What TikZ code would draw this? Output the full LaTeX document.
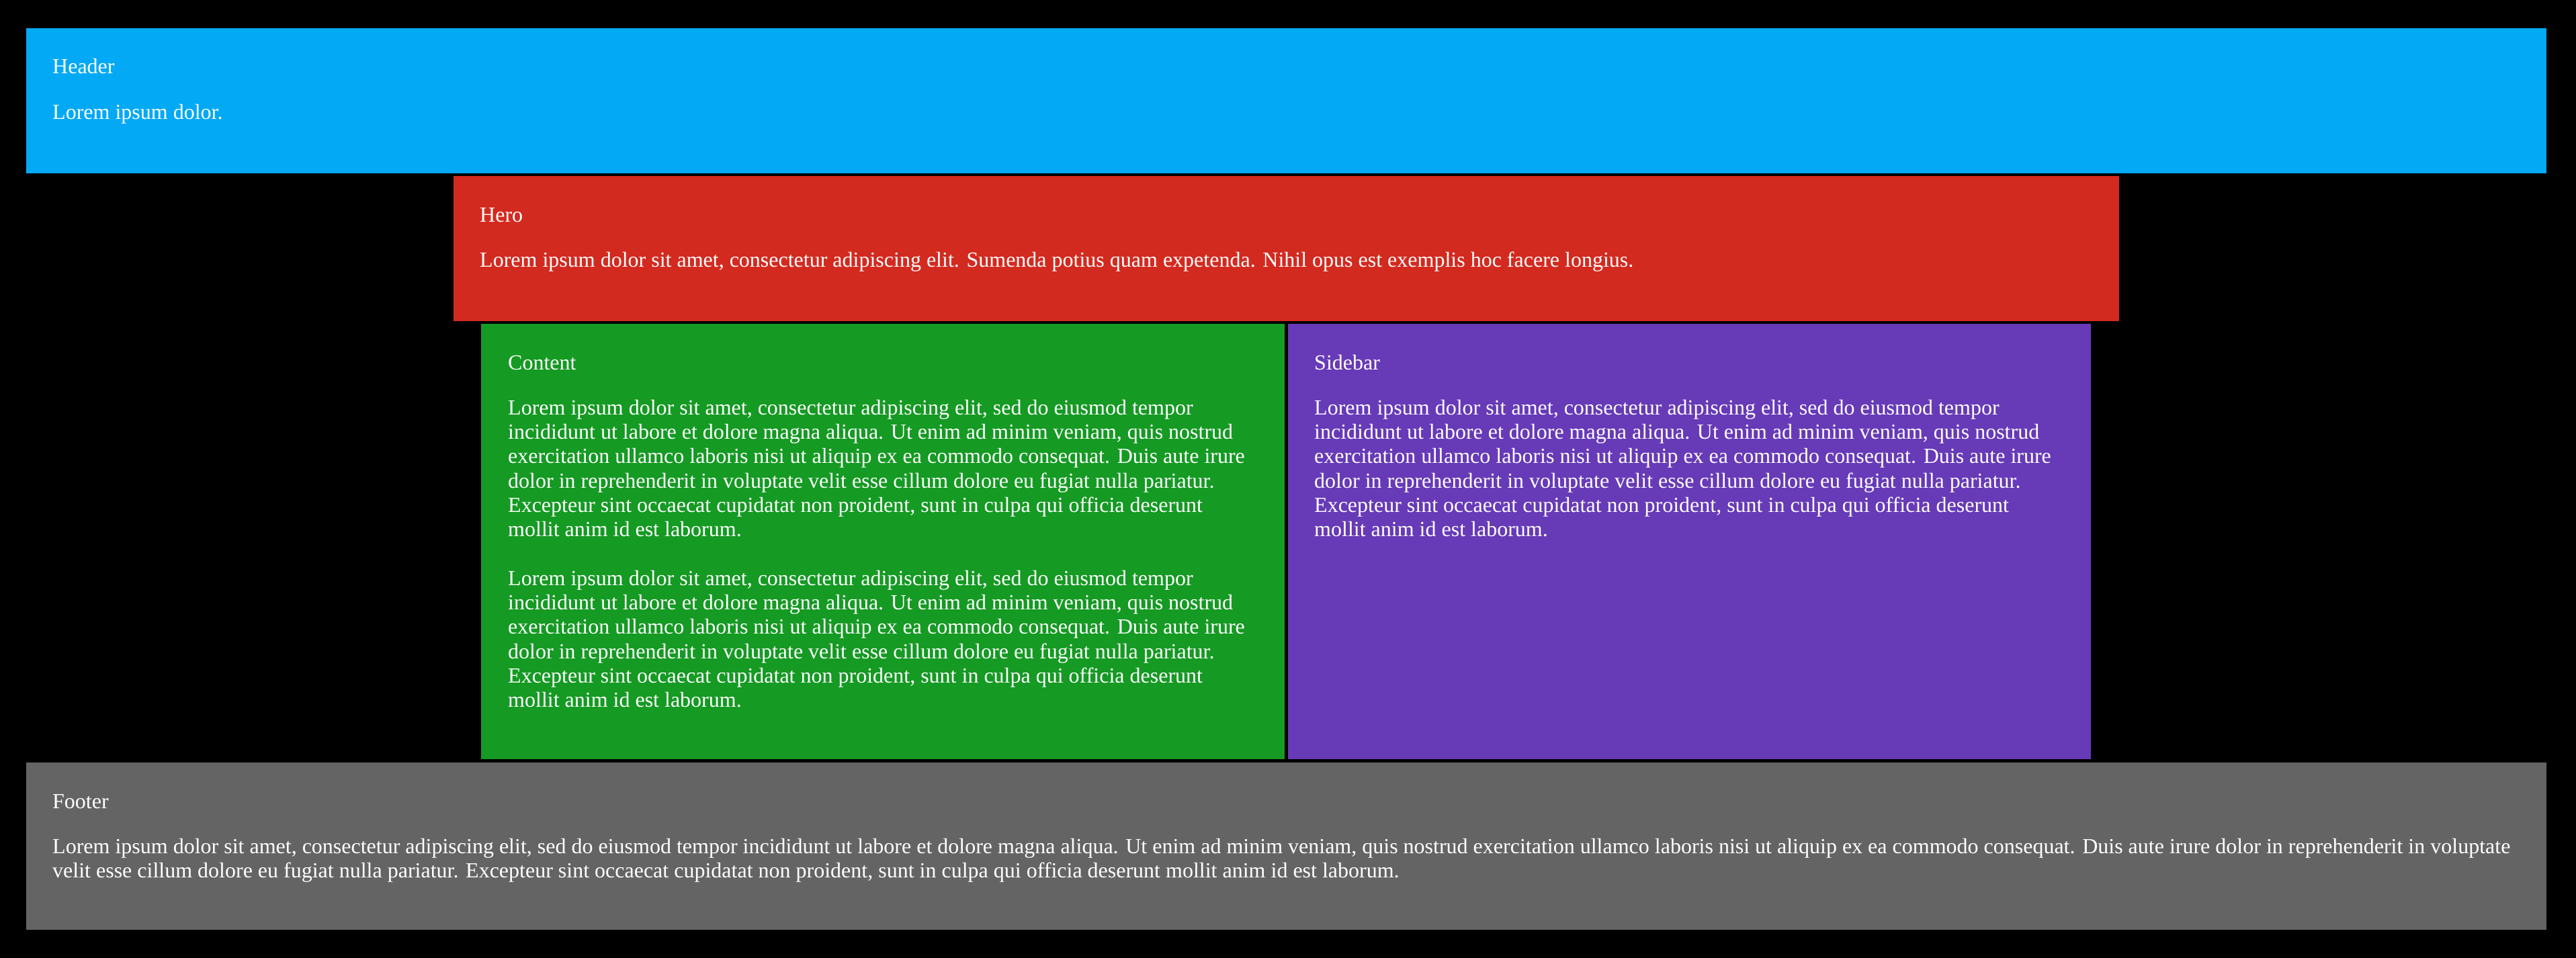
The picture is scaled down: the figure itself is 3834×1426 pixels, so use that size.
\documentclass[tikz,border=0pt]{standalone}
\usepackage{fontspec}
\setmainfont{Liberation Serif}
\definecolor{hdr}{HTML}{03A9F4}
\definecolor{hero}{HTML}{D32A20}
\definecolor{cnt}{HTML}{159A23}
\definecolor{sbar}{HTML}{673AB7}
\definecolor{ftr}{HTML}{646464}
\tikzset{
  txt/.style={anchor=base west, inner sep=0pt, text=white,
    font=\fontsize{32}{36.2}\selectfont},
  para/.style={anchor=north west, inner sep=0pt, align=left, text=white,
    font=\fontsize{32}{36.2}\selectfont, yshift=21.9pt}
}
\begin{document}
\begin{tikzpicture}[x=1pt,y=-1pt]
\fill[black] (0,0) rectangle (3834,1426);
\useasboundingbox (0,0) rectangle (3834,1426);
\fill[hdr] (39,42) rectangle (3790,258);
\fill[hero] (675,262) rectangle (3154,478);
\fill[cnt] (716,482) rectangle (1912,1130);
\fill[sbar] (1917,482) rectangle (3112,1130);
\fill[ftr] (39,1135) rectangle (3790,1384);
\node[txt] (hl) at (78,110) {Header};
\node[txt] (ht) at (78,178) {Lorem ipsum dolor.};
\node[txt] (rl) at (714,330) {Hero};
\node[txt] (rt) at (714,397) {Lorem ipsum dolor sit amet, consectetur adipiscing elit. Sumenda potius quam expetenda. Nihil opus est exemplis hoc facere longius.};
\node[txt] (cl) at (756,550) {Content};
\node[para] (c1) at (756,617) {Lorem ipsum dolor sit amet, consectetur adipiscing elit, sed do eiusmod tempor\\incididunt ut labore et dolore magna aliqua. Ut enim ad minim veniam, quis nostrud\\exercitation ullamco laboris nisi ut aliquip ex ea commodo consequat. Duis aute irure\\dolor in reprehenderit in voluptate velit esse cillum dolore eu fugiat nulla pariatur.\\Excepteur sint occaecat cupidatat non proident, sunt in culpa qui officia deserunt\\mollit anim id est laborum.};
\node[para] (c2) at (756,871) {Lorem ipsum dolor sit amet, consectetur adipiscing elit, sed do eiusmod tempor\\incididunt ut labore et dolore magna aliqua. Ut enim ad minim veniam, quis nostrud\\exercitation ullamco laboris nisi ut aliquip ex ea commodo consequat. Duis aute irure\\dolor in reprehenderit in voluptate velit esse cillum dolore eu fugiat nulla pariatur.\\Excepteur sint occaecat cupidatat non proident, sunt in culpa qui officia deserunt\\mollit anim id est laborum.};
\node[txt] (sl) at (1956,550) {Sidebar};
\node[para] (s1) at (1956,617) {Lorem ipsum dolor sit amet, consectetur adipiscing elit, sed do eiusmod tempor\\incididunt ut labore et dolore magna aliqua. Ut enim ad minim veniam, quis nostrud\\exercitation ullamco laboris nisi ut aliquip ex ea commodo consequat. Duis aute irure\\dolor in reprehenderit in voluptate velit esse cillum dolore eu fugiat nulla pariatur.\\Excepteur sint occaecat cupidatat non proident, sunt in culpa qui officia deserunt\\mollit anim id est laborum.};
\node[txt] (fl) at (78,1203) {Footer};
\node[para] (ft) at (78,1270) {Lorem ipsum dolor sit amet, consectetur adipiscing elit, sed do eiusmod tempor incididunt ut labore et dolore magna aliqua. Ut enim ad minim veniam, quis nostrud exercitation ullamco laboris nisi ut aliquip ex ea commodo consequat. Duis aute irure dolor in reprehenderit in voluptate\\velit esse cillum dolore eu fugiat nulla pariatur. Excepteur sint occaecat cupidatat non proident, sunt in culpa qui officia deserunt mollit anim id est laborum.};
\end{tikzpicture}
\end{document}
